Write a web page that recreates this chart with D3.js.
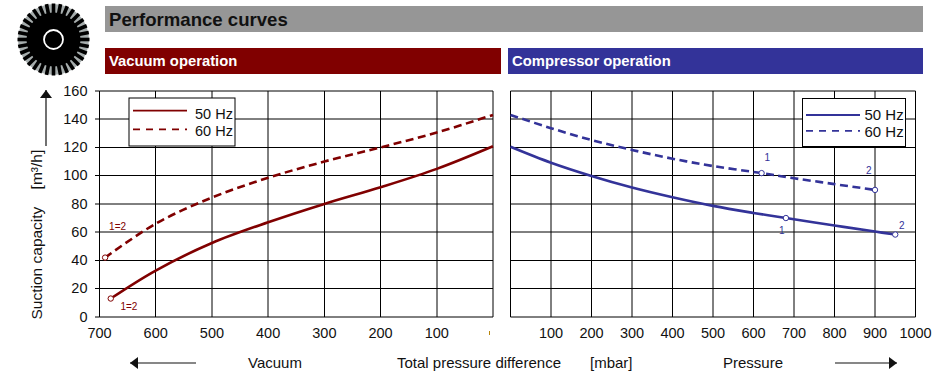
<!DOCTYPE html>
<html>
<head>
<meta charset="utf-8">
<script src="https://cdn.jsdelivr.net/npm/d3@7"></script>
<style>
  html, body { margin: 0; padding: 0; background: #fff; }
  svg { display: block; }
  text { font-family: "Liberation Sans", Arial, sans-serif; fill: #111; }
</style>
</head>
<body>
<div id="chart"></div>
<script>
// values
var yTicks = [0, 20, 40, 60, 80, 100, 120, 140, 160];
var vacuumTicks = [700, 600, 500, 400, 300, 200, 100];
var pressureTicks = [100, 200, 300, 400, 500, 600, 700, 800, 900, 1000];
var legendLabels = ["50 Hz", "60 Hz"];

var vacuumMbar50 = [680, 600, 500, 400, 300, 200, 100, 0];
var vacuumFlow50 = [13, 32.8, 52.3, 67, 80, 91.8, 104.8, 120.8];
var vacuumMbar60 = [690, 600, 500, 400, 300, 200, 100, 0];
var vacuumFlow60 = [42, 66, 84.5, 98.5, 110, 120, 130.5, 143];

var pressureMbar50 = [0, 100, 200, 300, 400, 500, 600, 680, 800, 900, 950];
var pressureFlow50 = [120.5, 109.2, 99.8, 91.6, 84.7, 78.6, 73.6, 70, 64.7, 60.4, 58.3];
var pressureMbar60 = [0, 100, 200, 300, 400, 500, 620, 700, 800, 900];
var pressureFlow60 = [143, 133.6, 125.2, 118.2, 112, 106.8, 101.8, 98.2, 94, 89.9];

// end points with their small labels
var vacuumPoints = [[680, 13, "1=2", 9.7, 11.5], [690, 42, "1=2", 4, -28]];
var pressurePoints = [[620, 101.8, "1", 3, -12], [900, 89.9, "2", -9, -16], [680, 70, "1", -7, 15.7], [950, 58.3, "2", 3.7, -5.5]];

var width = 952, height = 377;
var top_ = 90.9, bottom = 316.9;
var red = "#800000", blue = "#333399";

var svg = d3.select("#chart").append("svg")
    .attr("width", width)
    .attr("height", height);

var y = d3.scaleLinear().domain([0, 160]).range([bottom, top_]);
var xVac = d3.scaleLinear().domain([700, 0]).range([99.5, 493]);
var xPre = d3.scaleLinear().domain([0, 1000]).range([510.5, 915.5]);

// grid lines sit on half pixels, so some come out thin black and some wide grey
function snap(v) {
    return Math.round(v * 2) / 2;
}

// logo
var logo = svg.append("g").attr("transform", "translate(53.5,39.5)");
logo.append("circle").attr("r", 35.5).attr("fill", "#a6adad");
logo.selectAll("line.tooth")
    .data(d3.range(32))
    .join("line")
    .attr("x1", 0).attr("y1", 20).attr("x2", 0).attr("y2", 36)
    .attr("transform", d => "rotate(" + d * 360 / 32 + ")")
    .attr("stroke", "#000")
    .attr("stroke-width", 3.6);
logo.append("circle").attr("r", 27).attr("fill", "#000");
logo.append("circle").attr("r", 9.5).attr("fill", "none").attr("stroke", "#fff").attr("stroke-width", 1.8);

// header bars
function bar(x, yy, w, h, color, label, textColor, size) {
    svg.append("rect").attr("x", x).attr("y", yy).attr("width", w).attr("height", h).attr("fill", color);
    svg.append("text").attr("x", x + 4).attr("y", yy + h / 2 + size * 0.36)
        .style("fill", textColor)
        .style("font-size", size + "px")
        .style("font-weight", "bold")
        .text(label);
}
bar(105, 6, 818, 26, "#969696", "Performance curves", "#111", 18.6);
bar(105, 48, 396, 26, red, "Vacuum operation", "#fff", 14.8);
bar(508, 48, 415, 26, blue, "Compressor operation", "#fff", 14.8);

// one panel: grid, curves, markers, legend
function panel(x, ticks, xs50, ys50, xs60, ys60, points, color, lg) {
    var g = svg.append("g");
    var x0 = x.range()[0], x1 = x.range()[1];

    var xAxis = d3.axisBottom(x).tickValues(ticks).tickSize(0).tickSizeOuter(0).tickFormat(d3.format("d")).offset(0);
    var ax = g.append("g").attr("transform", "translate(0," + bottom + ")").call(xAxis);
    ax.select(".domain").remove();
    ax.selectAll("text").attr("y", 11).style("font-size", "14.5px");

    g.selectAll("line.v")
        .data(x.domain().concat(ticks))
        .join("line")
        .attr("x1", d => snap(x(d))).attr("x2", d => snap(x(d)))
        .attr("y1", snap(top_)).attr("y2", snap(bottom))
        .attr("stroke", "#000").attr("stroke-width", 1);
    g.selectAll("line.h")
        .data(yTicks)
        .join("line")
        .attr("x1", x0).attr("x2", x1)
        .attr("y1", d => snap(y(d))).attr("y2", d => snap(y(d)))
        .attr("stroke", "#000").attr("stroke-width", 1);

    var line = d3.line().curve(d3.curveCatmullRom);
    g.append("path")
        .attr("d", line(xs50.map((d, i) => [x(d), y(ys50[i])])))
        .attr("fill", "none").attr("stroke", color).attr("stroke-width", 2.6);
    g.append("path")
        .attr("d", line(xs60.map((d, i) => [x(d), y(ys60[i])])))
        .attr("fill", "none").attr("stroke", color).attr("stroke-width", 2.6)
        .attr("stroke-dasharray", "8,4.5");

    g.selectAll("circle.pt")
        .data(points)
        .join("circle")
        .attr("cx", d => x(d[0])).attr("cy", d => y(d[1])).attr("r", 2.7)
        .attr("fill", "#fff").attr("stroke", color).attr("stroke-width", 1);
    g.selectAll("text.pt")
        .data(points)
        .join("text")
        .attr("x", d => x(d[0]) + d[3]).attr("y", d => y(d[1]) + d[4])
        .style("fill", color)
        .style("font-size", "10px")
        .text(d => d[2]);

    // legend
    var box = g.append("g").attr("transform", "translate(" + lg.x + "," + lg.y + ")");
    box.append("rect").attr("width", lg.w).attr("height", lg.h)
        .attr("fill", "#fff").attr("stroke", "#000").attr("stroke-width", 1);
    legendLabels.forEach(function (label, i) {
        box.append("line")
            .attr("x1", lg.lineX).attr("x2", lg.lineX + 54)
            .attr("y1", lg.lineY[i]).attr("y2", lg.lineY[i])
            .attr("stroke", color).attr("stroke-width", 1.8)
            .attr("stroke-dasharray", i ? "7,6" : null);
        box.append("text").attr("x", lg.textX).attr("y", lg.textY[i])
            .style("font-size", lg.size + "px").text(label);
    });
}

panel(xVac, vacuumTicks, vacuumMbar50, vacuumFlow50, vacuumMbar60, vacuumFlow60, vacuumPoints, red,
    { x: 129, y: 98, w: 106, h: 48, lineX: 4, lineY: [12.7, 31.3], textX: 66, textY: [21, 38], size: 14.5 });
panel(xPre, pressureTicks, pressureMbar50, pressureFlow50, pressureMbar60, pressureFlow60, pressurePoints, blue,
    { x: 802.5, y: 98.5, w: 103, h: 48, lineX: 3.5, lineY: [16.5, 32.3], textX: 62, textY: [21.5, 38], size: 15 });

// y axis labels
var yAxis = d3.axisLeft(y).tickValues(yTicks).tickSize(0).tickSizeOuter(0).offset(0);
var ya = svg.append("g").attr("transform", "translate(99.5,0)").call(yAxis);
ya.select(".domain").remove();
ya.selectAll("text").attr("x", -12).style("font-size", "14.5px");
svg.selectAll("line.ytick")
    .data(yTicks)
    .join("line")
    .attr("x1", 95).attr("x2", 99.5)
    .attr("y1", d => snap(y(d))).attr("y2", d => snap(y(d)))
    .attr("stroke", "#000");

svg.append("text")
    .attr("transform", "translate(41.5,319.5) rotate(-90)")
    .style("font-size", "15.5px")
    .style("white-space", "pre")
    .text("Suction capacity    [m³/h]");

// stray tick under the zero of the left panel
svg.append("line").attr("x1", 489.5).attr("x2", 489.5).attr("y1", 331).attr("y2", 335)
    .attr("stroke", "#b8860b").attr("stroke-width", 1);

// bottom labels
var bottomLabels = [["Vacuum", 248], ["Total pressure difference", 397], ["[mbar]", 590], ["Pressure", 723]];
svg.selectAll("text.bottom")
    .data(bottomLabels)
    .join("text")
    .attr("x", d => d[1]).attr("y", 368)
    .style("font-size", "15px")
    .text(d => d[0]);

// arrows
function arrow(x1, y1, x2, y2) {
    svg.append("line").attr("x1", x1).attr("y1", y1).attr("x2", x2).attr("y2", y2)
        .attr("stroke", "#111").attr("stroke-width", 1.2);
    var a = Math.atan2(y2 - y1, x2 - x1) * 180 / Math.PI;
    svg.append("path").attr("d", "M0,0L-8,-6L-8,6Z")
        .attr("transform", "translate(" + x2 + "," + y2 + ") rotate(" + a + ")")
        .attr("fill", "#111");
}
arrow(46, 146, 46, 90);
arrow(196, 363, 130, 363);
arrow(835, 363, 897, 363);
</script>
</body>
</html>
